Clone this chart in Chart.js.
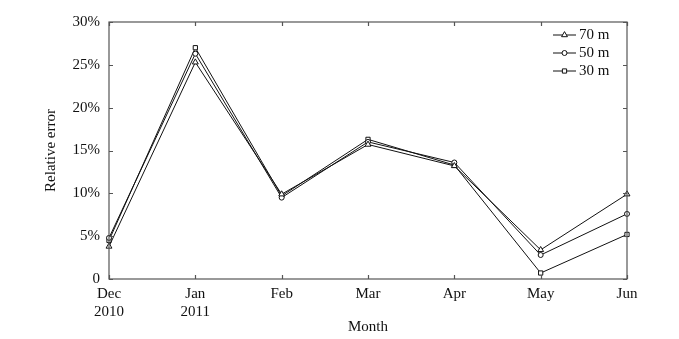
<!DOCTYPE html>
<html>
<head>
<meta charset="utf-8">
<script src="https://cdn.jsdelivr.net/npm/chart.js@4.4.1/dist/chart.umd.min.js"></script>
<style>
  html, body { margin: 0; padding: 0; background: #fff; }
  #wrap { width: 679px; height: 339px; }
</style>
</head>
<body>
<div id="wrap"><canvas id="chart"></canvas></div>
<script>
// months on the x axis (second line = year)
const months = [['Dec', '2010'], ['Jan', '2011'], 'Feb', 'Mar', 'Apr', 'May', 'Jun'];
// relative error in %
const err70 = [3.8, 25.3, 9.9, 15.7, 13.2, 3.4, 9.9];
const err50 = [4.8, 26.3, 9.5, 16.0, 13.6, 2.8, 7.6];
const err30 = [4.5, 27.0, 9.7, 16.3, 13.3, 0.7, 5.2];
const yTicks = [0, 5, 10, 15, 20, 25, 30];

const serif = 'Liberation Serif';

function series(label, data, style, r) {
    return {
        label: label,
        data: data,
        borderColor: '#111',
        borderWidth: 1,
        pointStyle: style,
        pointRadius: r,
        pointBackgroundColor: '#fff',
        pointBorderColor: '#111',
        pointBorderWidth: 1,
        tension: 0
    };
}

// frame, inward tick marks and the in-plot legend
const framePlugin = {
    id: 'frame',
    afterDraw(chart) {
        const ctx = chart.ctx;
        const a = chart.chartArea;
        const xs = chart.scales.x, ys = chart.scales.y;
        ctx.save();
        ctx.strokeStyle = '#555';
        ctx.lineWidth = 1.2;
        ctx.strokeRect(a.left, a.top, a.right - a.left, a.bottom - a.top);
        ctx.beginPath();
        xs.ticks.forEach((t, i) => {
            const x = Math.round(xs.getPixelForTick(i)) + 0.5;
            ctx.moveTo(x, a.bottom); ctx.lineTo(x, a.bottom - 4);
            ctx.moveTo(x, a.top); ctx.lineTo(x, a.top + 4);
        });
        ys.ticks.forEach((t, i) => {
            const y = Math.round(ys.getPixelForTick(i)) + 0.5;
            ctx.moveTo(a.left, y); ctx.lineTo(a.left + 4, y);
            ctx.moveTo(a.right, y); ctx.lineTo(a.right - 4, y);
        });
        ctx.stroke();

        // legend
        ctx.font = '15px "' + serif + '"';
        ctx.textBaseline = 'middle';
        chart.data.datasets.forEach((ds, i) => {
            const y = 35 + i * 18;
            ctx.strokeStyle = '#111';
            ctx.lineWidth = 1;
            ctx.beginPath();
            ctx.moveTo(553, y); ctx.lineTo(576, y);
            ctx.stroke();
            ctx.fillStyle = '#fff';
            Chart.helpers.drawPoint(ctx, { pointStyle: ds.pointStyle, radius: ds.pointRadius, borderWidth: 1 }, 564.5, y);
            ctx.fillStyle = '#111';
            ctx.fillText(ds.label, 579, y);
        });
        ctx.restore();
    }
};

new Chart(document.getElementById('chart'), {
    type: 'line',
    data: {
        labels: months,
        datasets: [
            series('70 m', err70, 'triangle', 3.4),
            series('50 m', err50, 'circle', 2.5),
            series('30 m', err30, 'rect', 3)
        ]
    },
    options: {
        responsive: true,
        maintainAspectRatio: false,
        animation: false,
        layout: { padding: { left: 0, top: 22, right: 52, bottom: 0 } },
        plugins: {
            legend: { display: false },
            tooltip: { enabled: false }
        },
        scales: {
            x: {
                offset: false,
                grid: { display: false, drawTicks: false },
                border: { display: false },
                ticks: {
                    color: '#111',
                    font: { family: serif, size: 15 },
                    padding: 6,
                    maxRotation: 0,
                    autoSkip: false
                },
                title: {
                    display: true,
                    text: 'Month',
                    color: '#111',
                    font: { family: serif, size: 15 },
                    padding: { top: 0, bottom: 3 }
                },
                afterFit(scale) { scale.height = 60; }
            },
            y: {
                min: 0,
                max: 30,
                afterBuildTicks(scale) { scale.ticks = yTicks.map(v => ({ value: v })); },
                grid: { display: false, drawTicks: false },
                border: { display: false },
                ticks: {
                    color: '#111',
                    font: { family: serif, size: 15 },
                    padding: 9,
                    callback: v => v === 0 ? '0' : v + '%'
                },
                title: {
                    display: true,
                    text: 'Relative error',
                    color: '#111',
                    font: { family: serif, size: 15 },
                    padding: { top: 42, bottom: 0 }
                },
                afterFit(scale) { scale.width = 109; }
            }
        }
    },
    plugins: [framePlugin]
});
</script>
</body>
</html>
